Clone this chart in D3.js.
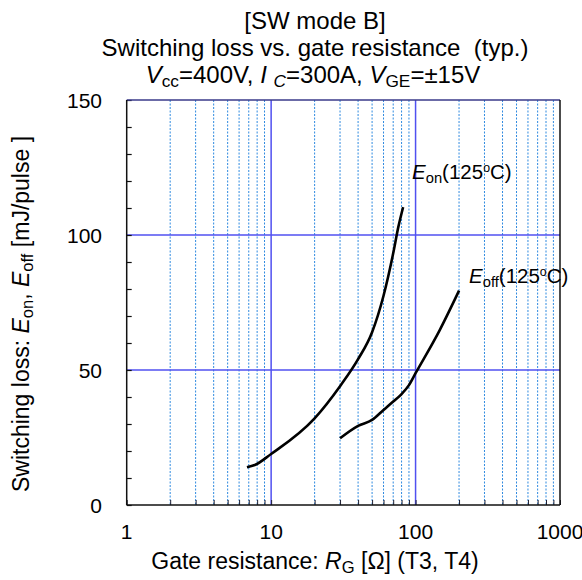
<!DOCTYPE html>
<html><head><meta charset="utf-8">
<script src="https://cdn.jsdelivr.net/npm/d3@7"></script>
<style>body{margin:0;background:#fff}svg{font-family:"Liberation Sans",Arial,sans-serif}</style>
</head><body>
<svg id="c" width="582" height="580"></svg>
<script>
const eonRg  = [6.8, 7.7, 10, 20, 30, 40, 50, 60, 70, 76, 82];
const eonVal = [14.0, 14.8, 18.9, 32.1, 44.0, 54.0, 64.0, 77.5, 93.2, 103, 110.3];
const eoffRg  = [30, 40, 50, 60, 70, 80, 90, 100, 147, 200];
const eoffVal = [24.7, 29.3, 31.5, 35.2, 38.3, 41.1, 44.4, 48.8, 64.8, 79.4];
const xTickVals = [1, 10, 100, 1000];
const xTickLabels = ["1", "10", "100", "1000"];
const yTickVals = [0, 50, 100, 150];
const yTickLabels = ["0", "50", "100", "150"];
const xMinor = [2,3,4,5,6,7,8,9,20,30,40,50,60,70,80,90,200,300,400,500,600,700,800,900];
const yMinor = [10,20,30,40,60,70,80,90,110,120,130,140];

const svg = d3.select("#c");
const L = 126.7, R = 560, T = 100, B = 505;
const x = d3.scaleLog().domain([1, 1000]).range([L, R]);
const y = d3.scaleLinear().domain([0, 150]).range([B, T]);

// minor vertical grid
svg.append("g").selectAll("line").data(xMinor).join("line")
  .attr("x1", d => x(d)).attr("x2", d => x(d)).attr("y1", T).attr("y2", B)
  .attr("stroke", "#2f8ae0").attr("stroke-width", 1).attr("stroke-dasharray", "2,1.5");
// major grid
svg.append("g").selectAll("line").data([10, 100]).join("line")
  .attr("x1", d => x(d)).attr("x2", d => x(d)).attr("y1", T).attr("y2", B)
  .attr("stroke", "#5050f0").attr("stroke-width", 1.5);
svg.append("g").selectAll("line").data([50, 100]).join("line")
  .attr("y1", d => y(d)).attr("y2", d => y(d)).attr("x1", L).attr("x2", R)
  .attr("stroke", "#5050f0").attr("stroke-width", 1.5);

// axes ticks (inward)
const xAx = d3.axisBottom(x).tickValues(xMinor.concat(xTickVals)).tickSize(-5).tickFormat("");
svg.append("g").attr("transform", `translate(0,${B})`).call(xAx)
  .call(g => g.select(".domain").remove())
  .call(g => g.selectAll(".tick line").attr("stroke", "#223").attr("stroke-width", 1));
const yAx = d3.axisLeft(y).tickValues(yMinor.concat(yTickVals)).tickSize(-5).tickFormat("");
svg.append("g").attr("transform", `translate(${L},0)`).call(yAx)
  .call(g => g.select(".domain").remove())
  .call(g => g.selectAll(".tick line").attr("stroke", "#111").attr("stroke-width", 1.2));

// frame
svg.append("line").attr("x1", L).attr("x2", R).attr("y1", T).attr("y2", T).attr("stroke", "#3a3a8a").attr("stroke-width", 1.5);
svg.append("line").attr("x1", L).attr("x2", R).attr("y1", B).attr("y2", B).attr("stroke", "#111").attr("stroke-width", 1.5);
svg.append("line").attr("x1", L).attr("x2", L).attr("y1", T).attr("y2", B).attr("stroke", "#111").attr("stroke-width", 1.5);
svg.append("line").attr("x1", R).attr("x2", R).attr("y1", T).attr("y2", B).attr("stroke", "#111").attr("stroke-width", 1.5);

// tick labels
svg.append("g").selectAll("text").data(xTickVals).join("text")
  .attr("x", d => x(d)).attr("y", 539).attr("text-anchor", "middle")
  .attr("font-size", 21).text((d, i) => xTickLabels[i]);
svg.append("g").selectAll("text").data(yTickVals).join("text")
  .attr("x", 102).attr("y", d => y(d) + 7.5).attr("text-anchor", "end")
  .attr("font-size", 21).text((d, i) => yTickLabels[i]);

// curves
const line = d3.line().x(d => x(d[0])).y(d => y(d[1])).curve(d3.curveMonotoneX);
svg.append("path").datum(d3.zip(eonRg, eonVal)).attr("d", line)
  .attr("fill", "none").attr("stroke", "#000").attr("stroke-width", 2.6);
svg.append("path").datum(d3.zip(eoffRg, eoffVal)).attr("d", line)
  .attr("fill", "none").attr("stroke", "#000").attr("stroke-width", 2.6);

// helper for rich text
function rich(t, parts) {
  parts.forEach(p => {
    const s = t.append("tspan").text(p.t);
    if (p.i) s.attr("font-style", "italic");
    if (p.sub) s.attr("font-size", "0.72em").attr("baseline-shift", "-25%");
    if (p.sup) s.attr("font-size", "0.6em").attr("baseline-shift", "55%");
  });
  return t;
}

// curve labels
rich(svg.append("text").attr("x", 412).attr("y", 179).attr("font-size", 20.5),
  [{t:"E", i:1},{t:"on", sub:1},{t:"(125"},{t:"o", sup:1},{t:"C)"}]);
rich(svg.append("text").attr("x", 469).attr("y", 283).attr("font-size", 20.5),
  [{t:"E", i:1},{t:"off", sub:1},{t:"(125"},{t:"o", sup:1},{t:"C)"}]);

// titles
svg.append("text").attr("x", 315).attr("y", 29).attr("text-anchor", "middle").attr("font-size", 24).text("[SW mode B]");
svg.append("text").attr("x", 315).attr("y", 56).attr("text-anchor", "middle").attr("font-size", 24).attr("xml:space", "preserve").text("Switching loss vs. gate resistance  (typ.)");
rich(svg.append("text").attr("x", 313).attr("y", 83).attr("text-anchor", "middle").attr("font-size", 24),
  [{t:"V", i:1},{t:"cc", sub:1},{t:"=400V, "},{t:"I", i:1},{t:" "},{t:"C", i:1, sub:1},{t:"=300A, "},{t:"V", i:1},{t:"GE", sub:1},{t:"=±15V"}]);

// axis titles
rich(svg.append("text").attr("x", 315).attr("y", 569).attr("text-anchor", "middle").attr("font-size", 23),
  [{t:"Gate resistance: "},{t:"R", i:1},{t:"G", sub:1},{t:" [Ω] (T3, T4)"}]);
rich(svg.append("text").attr("transform", "translate(29,314) rotate(-90)").attr("text-anchor", "middle").attr("font-size", 23),
  [{t:"Switching loss: "},{t:"E", i:1},{t:"on", sub:1},{t:", "},{t:"E", i:1},{t:"off", sub:1},{t:" [mJ/pulse ]"}]);
</script>
</body></html>
